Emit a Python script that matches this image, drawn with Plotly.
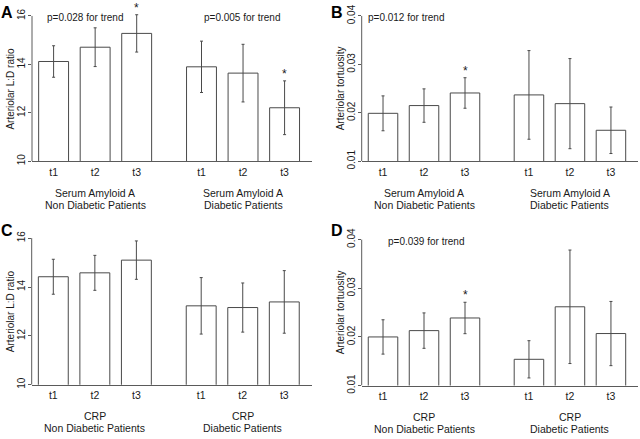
import plotly.graph_objects as go

# ---------------- data ----------------
tick_labels = ["t1", "t2", "t3", "t1", "t2", "t3"]
x_pos = [1, 2, 3, 4.56, 5.56, 6.56]

a_mean = [14.12, 14.71, 15.28, 13.90, 13.64, 12.21]
a_err = [0.65, 0.80, 0.77, 1.06, 1.19, 1.11]
a_star = [False, False, True, False, False, True]

b_mean = [0.0199, 0.0215, 0.0241, 0.0237, 0.0219, 0.0164]
b_err = [0.0036, 0.00345, 0.00315, 0.00915, 0.0093, 0.0048]
b_star = [False, False, True, False, False, False]

c_mean = [14.42, 14.58, 15.10, 13.23, 13.16, 13.39]
c_err = [0.715, 0.715, 0.785, 1.155, 1.005, 1.28]
c_star = [False] * 6

d_mean = [0.0200, 0.0213, 0.0239, 0.0154, 0.0262, 0.0207]
d_err = [0.00353, 0.00364, 0.00323, 0.00383, 0.01167, 0.0066]
d_star = [False, False, True, False, False, False]

sa_groups = [("Serum Amyloid A", "Non Diabetic Patients"), ("Serum Amyloid A", "Diabetic Patients")]
crp_groups = [("CRP", "Non Diabetic Patients"), ("CRP", "Diabetic Patients")]

ld_ticks = [10, 12, 14, 16]
tort_ticks = [0.01, 0.02, 0.03, 0.04]

# ---------------- style ----------------
FONT = "Liberation Sans, Arial, Helvetica, sans-serif"
EDGE = "#4a4a4a"
AXC = "#5a5a5a"
TXT = "#1a1a1a"
W, H = 640, 439

panels = [
    dict(letter="A", mean=a_mean, err=a_err, star=a_star, ticks=ld_ticks,
         ylab="Arteriolar L:D ratio", groups=sa_groups,
         p=[("p=0.028 for trend", 1.76), ("p=0.005 for trend", 5.53)],
         xd=(32, 312), yd=(12.3, 161.7), ly=9),
    dict(letter="B", mean=b_mean, err=b_err, star=b_star, ticks=tort_ticks,
         ylab="Arteriolar tortuosity", groups=sa_groups,
         p=[("p=0.012 for trend", 1.56)],
         xd=(361.7, 638), yd=(12.3, 161.7), ly=9),
    dict(letter="C", mean=c_mean, err=c_err, star=c_star, ticks=ld_ticks,
         ylab="Arteriolar L:D ratio", groups=crp_groups,
         p=[],
         xd=(31.7, 311.7), yd=(240.7, 391.5), ly=233),
    dict(letter="D", mean=d_mean, err=d_err, star=d_star, ticks=tort_ticks,
         ylab="Arteriolar tortuosity", groups=crp_groups,
         p=[("p=0.039 for trend", 2.05)],
         xd=(361.7, 638), yd=(242.3, 392.3), ly=233),
]

XR = [0.48, 7.22]
EXT = 0.05  # fraction of tick span added above top tick

fig = go.Figure()
annotations = []
shapes = []

for i, pnl in enumerate(panels):
    k = "" if i == 0 else str(i + 1)
    xa, ya = "x" + k, "y" + k
    t0, t1 = pnl["ticks"][0], pnl["ticks"][-1]
    span = t1 - t0
    ytop = t1 + EXT * span
    py_top_tick, py_bot = pnl["yd"]
    px_per = (py_bot - py_top_tick) / span
    py_top = py_top_tick - EXT * span * px_per
    dom_y = [1 - py_bot / H, 1 - py_top / H]
    dom_x = [pnl["xd"][0] / W, pnl["xd"][1] / W]

    fig.add_trace(go.Bar(
        x=x_pos, y=pnl["mean"], width=0.72,
        marker=dict(color="white", line=dict(color=EDGE, width=1)),
        error_y=dict(type="data", array=pnl["err"], visible=True,
                     color=EDGE, thickness=1, width=1.5),
        xaxis=xa, yaxis=ya, showlegend=False, hoverinfo="skip",
    ))

    fig.layout["xaxis" + k] = dict(
        domain=dom_x, range=XR, anchor=ya, showgrid=False, zeroline=False,
        showline=True, linecolor=AXC, linewidth=1, ticks="",
        tickvals=x_pos, ticktext=tick_labels, ticklabelstandoff=1,
        tickfont=dict(family=FONT, size=10.5, color=TXT), fixedrange=True,
    )
    fig.layout["yaxis" + k] = dict(
        domain=dom_y, range=[t0, ytop], anchor=xa, showgrid=False, zeroline=False,
        showline=False, ticks="outside", ticklen=3, tickcolor=AXC, tickwidth=1,
        tickvals=pnl["ticks"], tickangle=-90, ticklabelstandoff=-1,
        tickfont=dict(family=FONT, size=10, color=TXT), fixedrange=True,
    )
    shapes.append(dict(type="line", xref=xa + " domain", yref=ya,
                       x0=0, x1=0, y0=t0, y1=t1,
                       line=dict(color=AXC, width=1)))

    # y-axis title
    annotations.append(dict(
        text=pnl["ylab"], textangle=-90, xref="paper", yref="paper",
        x=(pnl["xd"][0] - 21) / W, y=1 - (py_bot + py_top_tick) / 2 / H,
        xanchor="center", yanchor="middle", showarrow=False,
        font=dict(family=FONT, size=10, color=TXT)))

    # group labels (two lines each)
    for gx, (g1, g2) in zip([2, 5.56], pnl["groups"]):
        for txt, off in ((g1, 32.5), (g2, 44.5)):
            annotations.append(dict(
                text=txt, xref=xa, yref="paper", x=gx, y=1 - (py_bot + off) / H,
                xanchor="center", yanchor="middle", showarrow=False,
                font=dict(family=FONT, size=10.5, color=TXT)))

    # trend p-values
    for txt, px in pnl["p"]:
        annotations.append(dict(
            text=txt, xref=xa, yref="paper", x=px, y=1 - (py_top_tick + 1.5) / H,
            xanchor="center", yanchor="middle", showarrow=False,
            font=dict(family=FONT, size=10, color=TXT)))

    # stars
    for xv, m, e, s in zip(x_pos, pnl["mean"], pnl["err"], pnl["star"]):
        if s:
            annotations.append(dict(
                text="*", xref=xa, yref=ya, x=xv, y=m + e,
                xanchor="center", yanchor="bottom", yshift=-2, showarrow=False,
                font=dict(family=FONT, size=12, color=TXT)))

    # panel letter
    annotations.append(dict(
        text="<b>%s</b>" % pnl["letter"], xref="paper", yref="paper",
        x=(pnl["xd"][0] - 33) / W, y=1 - pnl["ly"] / H,
        xanchor="left", yanchor="middle", showarrow=False,
        font=dict(family=FONT, size=16, color="#000000")))

fig.update_layout(
    width=W, height=H, margin=dict(l=0, r=0, t=0, b=0),
    paper_bgcolor="white", plot_bgcolor="white",
    annotations=annotations, shapes=shapes, bargap=0,
    font=dict(family=FONT, size=10, color=TXT),
)

fig.write_html("out.html", config={"displayModeBar": False, "staticPlot": True},
               post_script="document.body.style.margin='0';document.body.style.padding='0';")
